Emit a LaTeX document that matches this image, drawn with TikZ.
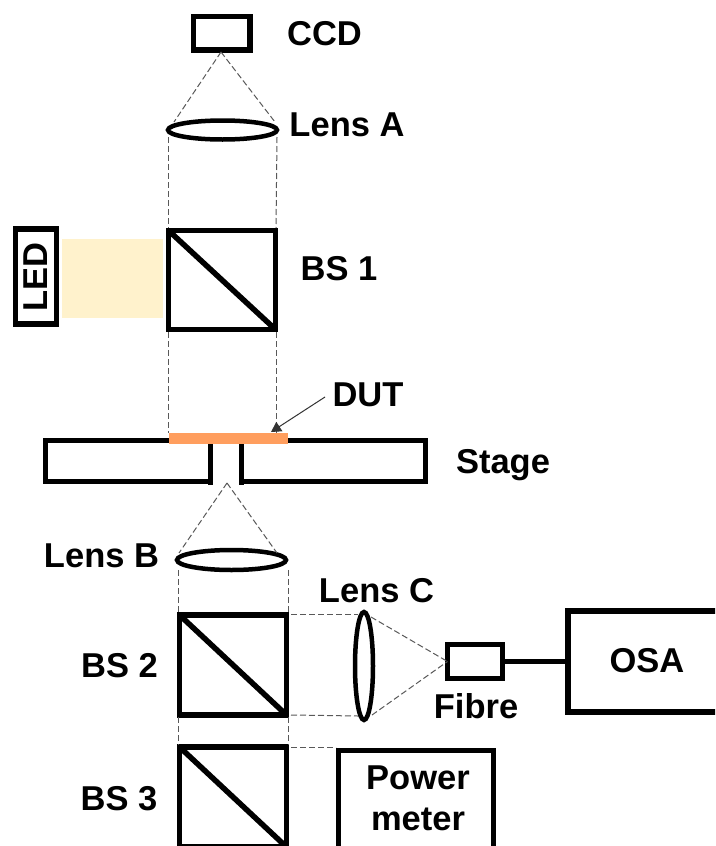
\documentclass[tikz,border=0pt]{standalone}
\usepackage{fontspec}
\setmainfont{Liberation Sans}
\usetikzlibrary{shapes.geometric,arrows.meta}
\definecolor{ledbeam}{HTML}{FFF2CC}
\definecolor{dutcol}{HTML}{FF9E5E}
\definecolor{raycol}{HTML}{595959}
\tikzset{
  box/.style={draw=black,line width=5.5pt,rectangle,inner sep=0pt,outer sep=0pt},
  lensshape/.style={draw=black,line width=4.5pt,ellipse,inner sep=0pt,outer sep=0pt},
  ray/.style={draw=raycol,line width=1pt,dash pattern=on 6pt off 3pt},
  thick line/.style={line width=5.5pt,line cap=butt},
  lbl/.style={font=\fontsize{34.5}{40}\selectfont\bfseries,inner sep=0pt,align=center,text=black},
}
\begin{document}
\begin{tikzpicture}[x=1pt,y=-1pt]
\clip (0,0) rectangle (715,846);
\fill[white] (0,0) rectangle (715,846);

% LED and beam
\node[fill=ledbeam,inner sep=0pt,minimum width=101pt,minimum height=79pt] (beam) at (112.5,278.5) {};
\node[box,minimum width=41pt,minimum height=95pt] (led) at (36,276.5) {};
\node[lbl,rotate=90] (ledt) at (36,277) {LED};

% optics, top
\node[box,minimum width=56.5pt,minimum height=33.5pt] (ccd) at (221.75,33.25) {};
\node[lensshape,minimum width=109pt,minimum height=19pt] (lensA) at (222.5,130) {};
\node[box,minimum width=107pt,minimum height=99pt] (bsa) at (222,280) {};
\draw[thick line] (bsa.north west) -- (bsa.south east);

% rays, top
\coordinate (ccdfocus) at (221,52);
\coordinate (lAl) at (174,122);
\coordinate (lAr) at (275,122);
\draw[ray] (ccdfocus) -- (lAl);
\draw[ray] (ccdfocus) -- (lAr);
\coordinate (lAbl) at (168.5,137);
\coordinate (lAbr) at (277,137);
\coordinate (bsatl) at (168.5,228);
\coordinate (bsatr) at (276,228);
\draw[ray] (lAbl) -- (bsatl);
\draw[ray] (lAbr) -- (bsatr);
\coordinate (bsabl) at (168.5,332);
\coordinate (bsabr) at (276.5,332);
\coordinate (dutl) at (168.5,433);
\coordinate (dutr) at (276.5,433);
\draw[ray] (bsabl) -- (dutl);
\draw[ray] (bsabr) -- (dutr);

% stage
\draw[line width=5pt,miter limit=10] (170,440.5) -- (45.5,440.5) -- (45.5,481.5) -- (210,481.5);
\draw[line width=5pt] (210,442) -- (210,485);
\draw[line width=5pt,miter limit=10] (288,440.5) -- (425.5,440.5) -- (425.5,481.5) -- (241,481.5);
\draw[line width=5pt] (241,442) -- (241,485);
\node[fill=dutcol,inner sep=0pt,minimum width=119pt,minimum height=11pt] (dut) at (228,438.5) {};
\coordinate (dutarrow) at (325,397);
\coordinate (duttip) at (271,432);
\draw[line width=1pt,-{Triangle[length=10pt,width=11pt]},black!80] (dutarrow) -- (duttip);

% optics, bottom
\node[lensshape,minimum width=109pt,minimum height=20pt] (lensB) at (231.5,560) {};
\coordinate (slit) at (227,483);
\coordinate (lBl) at (179,553);
\coordinate (lBr) at (277,553);
\draw[ray] (slit) -- (lBl);
\draw[ray] (slit) -- (lBr);
\node[box,minimum width=107pt,minimum height=100pt] (bsb) at (233,665) {};
\draw[thick line] (bsb.north west) -- (bsb.south east);
\node[box,minimum width=107pt,minimum height=100pt] (bsc) at (233,797) {};
\draw[thick line] (bsc.north west) -- (bsc.south east);
\coordinate (lBbl) at (178.5,570);
\coordinate (lBbr) at (288,570);
\coordinate (bsbtl) at (178.5,613);
\coordinate (bsbtr) at (288,613);
\draw[ray] (lBbl) -- (bsbtl);
\draw[ray] (lBbr) -- (bsbtr);
\coordinate (bsbbl) at (178.5,717);
\coordinate (bsbbr) at (288,717);
\coordinate (bsctl) at (178.5,745);
\coordinate (bsctr) at (288,745);
\draw[ray] (bsbbl) -- (bsctl);
\draw[ray] (bsbbr) -- (bsctr);

\node[lensshape,minimum width=18pt,minimum height=108pt] (lensC) at (364,666) {};
\coordinate (bsbtr2) at (291,614.5);
\coordinate (bsbbr2) at (291,715);
\coordinate (lCtl) at (358,614.5);
\coordinate (lCbl) at (358,716);
\draw[ray] (bsbtr2) -- (lCtl);
\draw[ray] (bsbbr2) -- (lCbl);
\node[box,minimum width=55pt,minimum height=34pt] (fibre) at (475,661.5) {};
\node[box,minimum width=160pt,minimum height=101pt] (osa) at (648,661.5) {};
\draw[thick line] (fibre.east) -- (osa.west);
\coordinate (lCtr) at (371,617);
\coordinate (lCbr) at (372,715);
\draw[ray] (lCtr) -- (fibre.west);
\draw[ray] (lCbr) -- (fibre.west);
\node[box,minimum width=155pt,minimum height=140pt] (pm) at (416,820.5) {};
\coordinate (bsctr2) at (291,747);
\coordinate (pmt) at (336,747);
\draw[ray] (bsctr2) -- (pmt);

% labels
\node[lbl] (tccd) at (324.5,34) {CCD};
\node[lbl] (tla) at (347,125) {Lens A};
\node[lbl] (tbsa) at (339,269) {BS 1};
\node[lbl] (tdut) at (368,395) {DUT};
\node[lbl] (tstage) at (503,465) {Stage};
\node[lbl] (tlb) at (101.5,556) {Lens B};
\node[lbl] (tlc) at (376.5,591) {Lens C};
\node[lbl] (tbsb) at (119.5,666) {BS 2};
\node[lbl] (tbsc) at (119,799) {BS 3};
\node[lbl] (tfibre) at (476,706) {Fibre};
\node[lbl] (tosa) at (647,661) {OSA};
\node[lbl] (tpow) at (418,778) {Power};
\node[lbl] (tmeter) at (418,819) {meter};
\end{tikzpicture}
\end{document}
